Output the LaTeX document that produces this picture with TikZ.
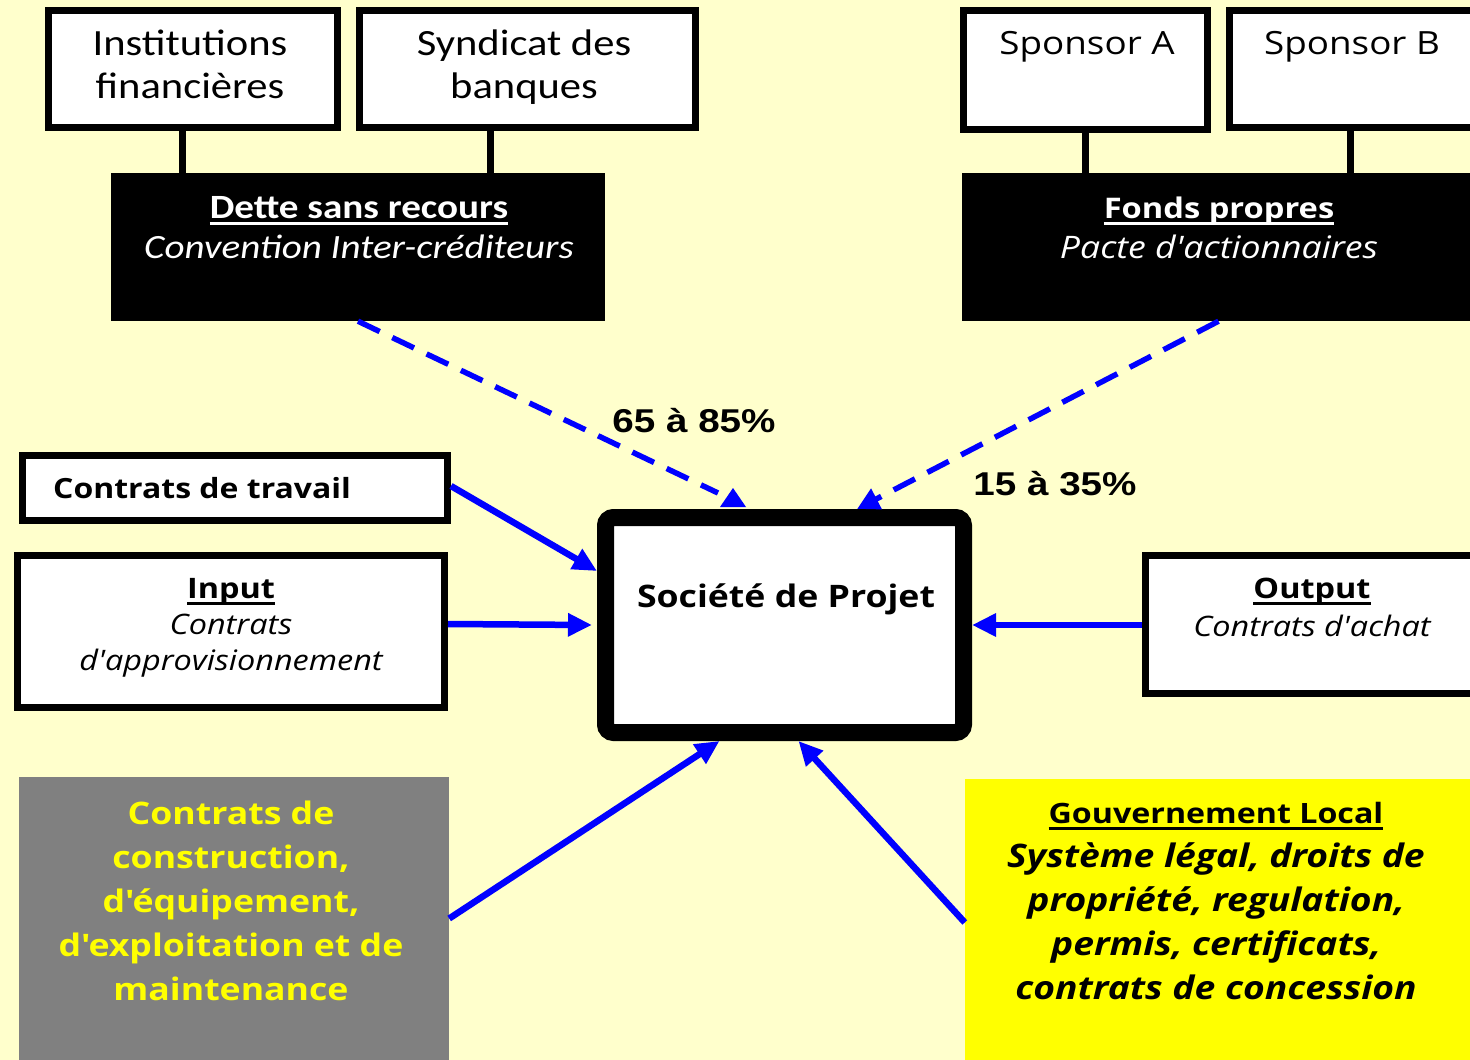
\documentclass[tikz,border=0pt]{standalone}
\usepackage{fontspec}
\setmainfont{Open Sans}
\newfontfamily\fos[FakeStretch=1.15]{Open Sans}
\newfontfamily\fcal[FakeStretch=1.15]{Carlito}
\newfontfamily\farl[FakeStretch=1.17]{Liberation Sans}
\newcommand\myul[1]{\leavevmode\setbox0\hbox{#1}\rlap{\vrule width\wd0 height -4pt depth 6.5pt}\box0}
\usetikzlibrary{arrows.meta}
\definecolor{bgc}{HTML}{FFFFCC}
\definecolor{arrowblue}{HTML}{0000FF}
\definecolor{greybox}{HTML}{808080}
\definecolor{yelbox}{HTML}{FFFF00}
\begin{document}
\begin{tikzpicture}[x=1pt,y=-1pt,
  wbox/.style={draw=black, line width=7pt, fill=white, inner sep=0pt},
  bbox/.style={fill=black, draw=none, inner sep=0pt},
  txt/.style={inner sep=0pt, align=center, anchor=base},
  conn/.style={line width=7pt, draw=black},
  arr/.style={draw=arrowblue, line width=6.5pt, -{Triangle[length=24pt,width=22pt]}},
  darr/.style={draw=arrowblue, line width=5.5pt, dash pattern=on 24pt off 14pt},
]
\fill[bgc] (0,0) rectangle (1470,1060);
\useasboundingbox (0,0) rectangle (1470,1060);
\begin{scope}
\clip (0,0) rectangle (1470,1060);
% top boxes
\node[wbox, minimum width=289pt, minimum height=117pt] (inst) at (193,69) {};
\node[wbox, minimum width=336pt, minimum height=117pt] (synd) at (527.5,69) {};
\node[wbox, minimum width=244pt, minimum height=119pt] (spa) at (1085.5,70) {};
\node[wbox, minimum width=251pt, minimum height=117pt] (spb) at (1355,69) {};
\node[bbox, minimum width=494pt, minimum height=148pt] (dette) at (358,247) {};
\node[bbox, minimum width=513pt, minimum height=148pt] (fonds) at (1218.5,247) {};
% side boxes
\node[wbox, minimum width=425pt, minimum height=65pt] (travail) at (235,488) {};
\node[wbox, minimum width=427pt, minimum height=152pt] (input) at (231,631.5) {};
\node[wbox, minimum width=335pt, minimum height=138pt] (output) at (1313,624.5) {};
\node[draw=black, fill=white, line width=17pt, rounded corners=8pt, inner sep=0pt,
      minimum width=358pt, minimum height=215pt] (soc) at (784.5,625) {};
\node[fill=greybox, inner sep=0pt, minimum width=430pt, minimum height=293pt] (grey) at (234,923.5) {};
\node[fill=yelbox, inner sep=0pt, minimum width=510pt, minimum height=291pt] (yel) at (1220,924.5) {};
% connector x positions
\coordinate (cx1) at (182,0);
\coordinate (cx2) at (490,0);
\coordinate (cx3) at (1085,0);
\coordinate (cx4) at (1350,0);
\draw[conn] (inst.south -| cx1) -- (dette.north -| cx1);
\draw[conn] (synd.south -| cx2) -- (dette.north -| cx2);
\draw[conn] (spa.south -| cx3) -- (fonds.north -| cx3);
\draw[conn] (spb.south -| cx4) -- (fonds.north -| cx4);
% texts (base anchor = baseline of last line)
\node[txt, font=\fcal\fontsize{37}{43}\selectfont] (tinst) at (190,98) {Institutions\\financières};
\node[txt, font=\fcal\fontsize{37}{43}\selectfont] (tsynd) at (524,98) {Syndicat des\\banques};
\node[txt, font=\fos\fontsize{32}{43}\selectfont] (tspa) at (1087,54) {Sponsor A};
\node[txt, font=\fos\fontsize{32}{43}\selectfont] (tspb) at (1352,54) {Sponsor B};
\node[txt, text=white, font=\fcal\fontsize{34}{40}\selectfont] (tdette) at (359,258)
  {\myul{\bfseries Dette sans recours}\\\itshape Convention Inter-créditeurs};
\node[txt, text=white, font=\fos\fontsize{31}{40}\selectfont] (tfonds) at (1219,258)
  {\myul{\bfseries\fontsize{28.4}{40}\selectfont Fonds propres}\\\itshape Pacte d'actionnaires};
\node[txt, font=\farl\bfseries\fontsize{33}{38}\selectfont] (p65) at (694,432) {65 à 85\%};
\node[txt, font=\farl\bfseries\fontsize{33}{38}\selectfont] (p15) at (1055,495) {15 à 35\%};
\node[inner sep=0pt, anchor=base west, font=\fos\bfseries\fontsize{27.8}{34}\selectfont] (ttravail) at (53,498) {Contrats de travail};
\node[txt, font=\fos\fontsize{28.2}{36}\selectfont] (tinput) at (231,670)
  {\myul{\bfseries Input}\\\itshape Contrats\\\itshape d'approvisionnement};
\node[txt, font=\fos\bfseries\fontsize{31}{36}\selectfont] (tsoc) at (786,607) {Société de Projet};
\node[txt, font=\fos\fontsize{28.2}{38}\selectfont] (toutput) at (1312,636)
  {\myul{\bfseries Output}\\\itshape Contrats d'achat};
\node[txt, text=yelbox, font=\fos\bfseries\fontsize{31}{44}\selectfont] (tgrey) at (231,1000)
  {Contrats de\\construction,\\d'équipement,\\d'exploitation et de\\maintenance};
\node[txt, font=\fos\bfseries\fontsize{32.4}{44}\selectfont] (tgouv) at (1216,999)
  {\myul{\fontsize{28}{44}\selectfont Gouvernement Local}\\\itshape Système légal, droits de\\\itshape propriété, regulation,\\\itshape permis, certificats,\\\itshape contrats de concession};
% arrows
\coordinate (d1) at (718,493);
\draw[darr] (dette.south) -- (d1);
\fill[arrowblue] (720,507) -- (746,507) -- (733,488) -- cycle;
\coordinate (d2x) at (857,0);
\draw[darr, -{Triangle[length=22pt,width=22pt]}] (fonds.south) -- (soc.north -| d2x);
\draw[arr] ([yshift=2pt]travail.east) -- ([yshift=54pt]soc.west);
\draw[arr] ([yshift=7.5pt]input.east) -- ([xshift=-5pt]soc.west);
\draw[arr] (output.west |- soc.east) -- (soc.east);
\draw[arr] ([yshift=5pt]grey.east) -- ([xshift=-65pt]soc.south);
\draw[arr] ([yshift=2pt]yel.west) -- ([xshift=14pt]soc.south);
\end{scope}
\end{tikzpicture}
\end{document}
